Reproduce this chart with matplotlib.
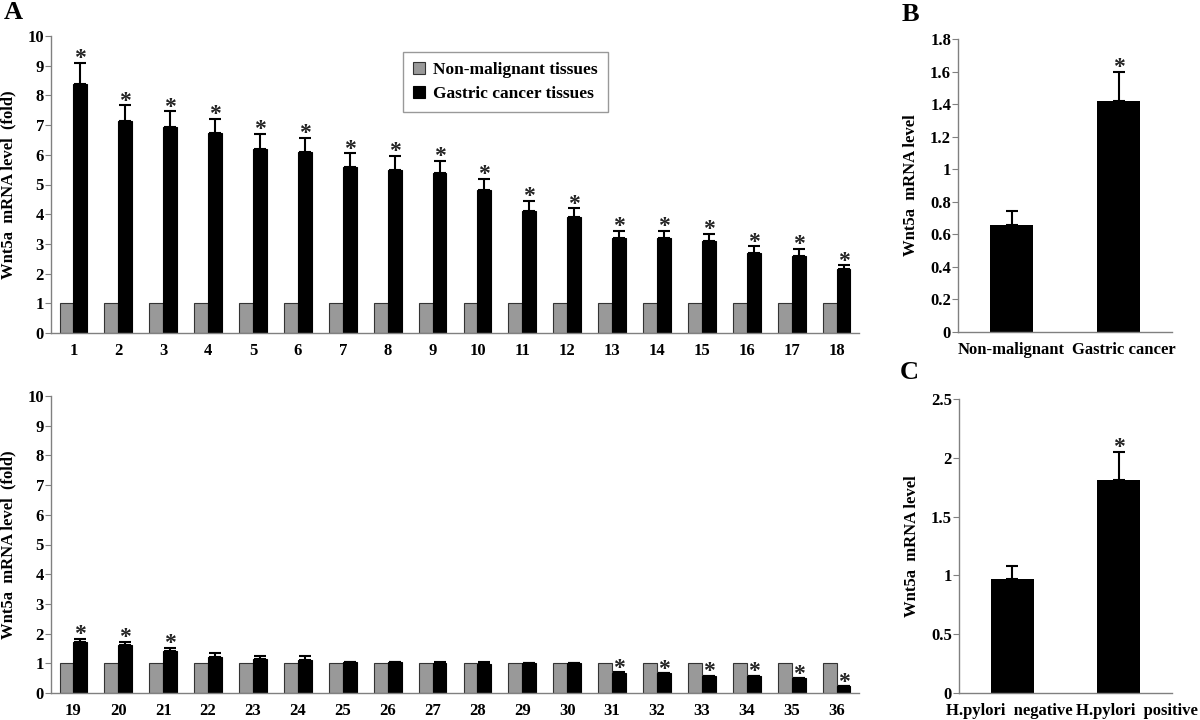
import numpy as np
import matplotlib
matplotlib.use("Agg")
import matplotlib.pyplot as plt

plt.rcParams['font.family'] = ['Liberation Serif', 'DejaVu Serif']
plt.rcParams['font.weight'] = 'bold'
plt.rcParams['axes.labelweight'] = 'bold'

# -------------------
# DATA
# -------------------
cases_top = [str(i) for i in range(1, 19)]
cases_bot = [str(i) for i in range(19, 37)]

normal_top = [1.0] * 18
cancer_top = [8.4, 7.13, 6.93, 6.72, 6.21, 6.11, 5.6, 5.5, 5.4,
              4.8, 4.1, 3.9, 3.2, 3.2, 3.1, 2.7, 2.6, 2.14]
cancer_top_err = [0.7, 0.54, 0.53, 0.5, 0.5, 0.46, 0.45, 0.46, 0.4,
                  0.4, 0.34, 0.3, 0.24, 0.24, 0.23, 0.22, 0.23, 0.14]
star_top = [True] * 18

normal_bot = [1.0] * 18
cancer_bot = [1.73, 1.62, 1.43, 1.22, 1.13, 1.12, 1.03, 1.03, 1.02,
              0.97, 1.0, 1.0, 0.68, 0.66, 0.57, 0.57, 0.49, 0.22]
cancer_bot_err = [0.09, 0.1, 0.09, 0.11, 0.1, 0.11, 0.02, 0.02, 0.02,
                  0.09, 0.0, 0.0, 0.02, 0.0, 0.0, 0.0, 0.0, 0.0]
star_bot = [True, True, True, False, False, False, False, False, False,
            False, False, False, True, True, True, True, True, True]

b_labels = ['Non-malignant', 'Gastric cancer']
b_values = [0.655, 1.42]
b_err = [0.09, 0.18]
b_star = [False, True]

c_labels = ['H.pylori  negative', 'H.pylori  positive']
c_values = [0.97, 1.81]
c_err = [0.11, 0.24]
c_star = [False, True]

GRAY = '#999999'
AXIS = '#808080'
W = 1200
H = 720
FS = 12


def px_axes(fig, left, top, right, bottom):
    return fig.add_axes([left / W, 1 - bottom / H, (right - left) / W, (bottom - top) / H])


def style_axes(ax):
    for s in ['top', 'right']:
        ax.spines[s].set_visible(False)
    for s in ['left', 'bottom']:
        ax.spines[s].set_color(AXIS)
        ax.spines[s].set_linewidth(1.0)
    ax.tick_params(axis='y', direction='out', length=4, color=AXIS, labelsize=FS, pad=1)
    ax.tick_params(axis='x', length=0, labelsize=FS, pad=7)


def add_star(ax, x, y):
    ax.annotate('*', (x, y), xytext=(0, 3.0), textcoords='offset points',
                ha='center', va='center', fontsize=17, fontweight='bold', color='#222222')


def draw_pairs(ax, labels, normal, cancer, err, stars):
    x = np.arange(1, len(labels) + 1)
    bw = 0.31
    ax.bar(x - bw / 2, normal, width=bw, color=GRAY, edgecolor='#333333', linewidth=0.8,
           label='Non-malignant tissues', zorder=2)
    ax.bar(x + bw / 2, cancer, width=bw, color='black', edgecolor='black', linewidth=0.8,
           label='Gastric cancer tissues', zorder=2)
    yerr = np.vstack([np.zeros(len(err)), err])
    ax.errorbar(x + bw / 2, cancer, yerr=yerr, fmt='none', ecolor='black',
                elinewidth=1.5, capsize=4.5, capthick=1.5, zorder=3)
    for xi, ci, ei, s in zip(x, cancer, err, stars):
        if s:
            add_star(ax, xi + bw / 2, ci + ei)
    ax.set_xlim(0.5, len(labels) + 0.5)
    ax.set_ylim(0, 10)
    ax.set_yticks(range(0, 11))
    ax.set_xticks(x)
    ax.set_xticklabels(labels)
    ax.set_ylabel('Wnt5a  mRNA level  (fold)', fontsize=FS, labelpad=8)
    style_axes(ax)


def draw_single(ax, labels, values, err, stars, ylim, yticks, yticklabels, label_pos):
    x = np.arange(1, len(labels) + 1)
    ax.bar(x, values, width=0.4, color='black', zorder=2)
    yerr = np.vstack([np.zeros(len(err)), err])
    ax.errorbar(x, values, yerr=yerr, fmt='none', ecolor='black',
                elinewidth=1.5, capsize=4.5, capthick=1.5, zorder=3)
    for xi, v, e, s in zip(x, values, err, stars):
        if s:
            add_star(ax, xi, v + e)
    ax.set_xlim(0.5, len(labels) + 0.5)
    ax.set_ylim(*ylim)
    ax.set_yticks(yticks)
    ax.set_yticklabels(yticklabels)
    ax.set_xticks(label_pos)
    ax.set_xticklabels(labels)
    ax.set_ylabel('Wnt5a  mRNA level', fontsize=FS, labelpad=8)
    style_axes(ax)


fig = plt.figure(figsize=(12, 7.2), dpi=100)

ax_top = px_axes(fig, 51, 36, 859, 333)
draw_pairs(ax_top, cases_top, normal_top, cancer_top, cancer_top_err, star_top)
leg = ax_top.legend(loc='upper left', bbox_to_anchor=(0.4356, 0.945), borderaxespad=0,
                    fancybox=False, frameon=True, fontsize=12.5, handlelength=0.7,
                    handleheight=0.7, handletextpad=0.5, borderpad=0.55, labelspacing=0.45)
leg.get_frame().set_edgecolor(AXIS)
leg.get_frame().set_linewidth(1.0)

ax_bot = px_axes(fig, 51, 396, 859, 693)
draw_pairs(ax_bot, cases_bot, normal_bot, cancer_bot, cancer_bot_err, star_bot)

ax_b = px_axes(fig, 958, 39, 1172, 332)
draw_single(ax_b, b_labels, b_values, b_err, b_star, (0, 1.8),
            np.arange(0, 1.81, 0.2), ['0', '0.2', '0.4', '0.6', '0.8', '1', '1.2', '1.4', '1.6', '1.8'],
            [1.0, 2.05])

ax_c = px_axes(fig, 959, 399, 1172, 693)
draw_single(ax_c, c_labels, c_values, c_err, c_star, (0, 2.5),
            np.arange(0, 2.51, 0.5), ['0', '0.5', '1', '1.5', '2', '2.5'],
            [0.97, 2.17])

fig.text(4 / W, 1 - 1 / H, 'A', fontsize=19, fontweight='bold', va='top', ha='left')
fig.text(902 / W, 1 - 3 / H, 'B', fontsize=19, fontweight='bold', va='top', ha='left')
fig.text(900 / W, 1 - 361 / H, 'C', fontsize=19, fontweight='bold', va='top', ha='left')

fig.savefig('out.png', dpi=100, facecolor='white')
